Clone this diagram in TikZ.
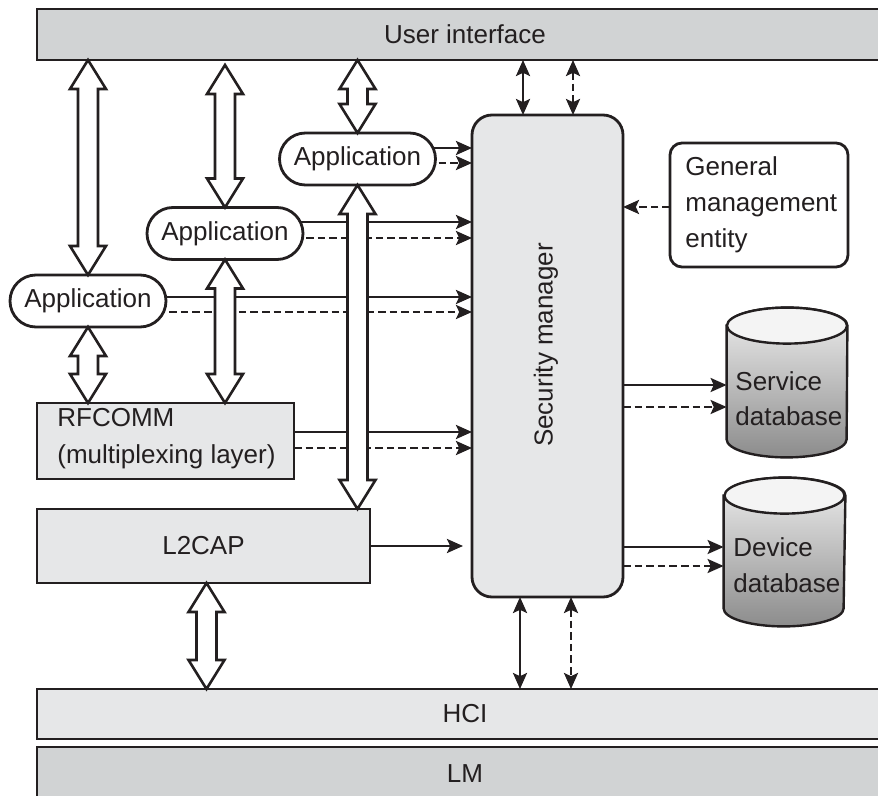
\documentclass[tikz,border=0pt]{standalone}
\usepackage{fontspec}
\setmainfont{Liberation Sans}
\usetikzlibrary{arrows.meta,calc,shapes.misc,backgrounds}
\definecolor{ink}{HTML}{231F20}
\definecolor{barfill}{HTML}{D1D3D4}
\definecolor{boxfill}{HTML}{E6E7E8}
\definecolor{dbcap}{HTML}{F4F4F4}
\definecolor{dbtop}{HTML}{EEEEEE}
\definecolor{dbbot}{HTML}{8C8C8C}
\tikzset{
  layer/.style={draw=ink, line width=1.4pt, rectangle, inner sep=0pt, outer sep=0pt},
  appbox/.style={draw=ink, line width=1.4pt, fill=white, rounded rectangle,
    minimum width=78pt, minimum height=26pt, inner sep=0pt, outer sep=0pt},
  lefttext/.style={anchor=west, align=left, inner sep=0pt},
  solidarr/.style={draw=ink, line width=1.3pt, ->},
  bothway/.style={draw=ink, line width=1.3pt, <->},
  brk/.style={dash pattern=on 3.8pt off 2pt},
  dbline/.style={draw=ink, line width=1.2pt},
  % wide hollow two-headed arrow, drawn from a top point to a bottom point
  hollow/.style={draw=ink, fill=white, line width=1.3pt, line join=miter,
    to path={-- ($(\tikztostart)+(18,29)$) -- ($(\tikztostart)+(10,29)$)
      -- ($(\tikztotarget)+(10,-29)$) -- ($(\tikztotarget)+(18,-29)$)
      -- (\tikztotarget)
      -- ($(\tikztotarget)+(-18,-29)$) -- ($(\tikztotarget)+(-10,-29)$)
      -- ($(\tikztostart)+(-10,29)$) -- ($(\tikztostart)+(-18,29)$) -- cycle}}
}
\begin{document}
\begin{tikzpicture}[x=0.5pt, y=-0.5pt, font=\fontsize{13}{15.6}\selectfont,
    text=ink, >={Stealth[length=8pt,width=7pt,inset=1.6pt]}]
\useasboundingbox (0,0) rectangle (878,796);

% horizontal layers
\node[layer, fill=barfill, minimum width=428pt, minimum height=25.5pt] (ui) at (465,34.5) {User interface};
\node[layer, fill=boxfill, minimum width=428pt, minimum height=25pt] (hci) at (465,714) {HCI};
\node[layer, fill=barfill, minimum width=428pt, minimum height=27pt] (lm) at (465,774) {LM};

% security manager
\node[layer, fill=boxfill, rounded corners=10pt, minimum width=75.5pt, minimum height=241pt] (sm) at (547.5,356) {};
\node[rotate=90] (smlabel) at (546,345) {Security manager};

% general management entity
\node[layer, fill=white, rounded corners=6pt, minimum width=89pt, minimum height=62pt] (gme) at (759,205) {};
\node[lefttext, font=\fontsize{13}{18}\selectfont] (gmetext) at (685,205) {General\\management\\entity};

% applications
\node[appbox] (app3) at (357.5,159) {Application};
\node[appbox] (app2) at (225,233.5) {Application};
\node[appbox] (app1) at (88,301) {Application};

% protocol layers
\node[layer, fill=boxfill, minimum width=128.5pt, minimum height=38pt] (rfcomm) at (165.5,441) {};
\node[lefttext, font=\fontsize{13}{18.5}\selectfont] (rfcommtext) at (57,438.5) {RFCOMM\\(multiplexing layer)};
\node[layer, fill=boxfill, minimum width=166.5pt, minimum height=37pt] (l2cap) at (203.5,546) {L2CAP};

% databases
\node[minimum width=60pt, minimum height=74.5pt, inner sep=0pt] (sdb) at (787,382.5) {};
\node[minimum width=60.5pt, minimum height=74pt, inner sep=0pt] (ddb) at (784.5,552) {};
\foreach \db in {sdb,ddb} {
  \draw[dbline, top color=dbtop, bottom color=dbbot]
    ($(\db.north west)+(0,18)$) -- ($(\db.south west)+(0,-18)$)
    arc[start angle=180, end angle=0, x radius=60, y radius=18]
    -- ($(\db.north east)+(0,18)$)
    arc[start angle=0, end angle=-180, x radius=60, y radius=18] -- cycle;
  \draw[dbline, fill=dbcap] ($(\db.north)+(0,18)$) ellipse[x radius=60, y radius=18];
}
\node[lefttext, font=\fontsize{13}{17.5}\selectfont] (sdbtext) at (735,398.5) {Service\\database};
\node[lefttext, font=\fontsize{13}{18}\selectfont] (ddbtext) at (733,565) {Device\\database};

% rows and columns of the thin connectors
\coordinate (r3s) at (0,148);  \coordinate (r3d) at (0,163);
\coordinate (r2s) at (0,222);  \coordinate (r2d) at (0,238);
\coordinate (r1s) at (0,297);  \coordinate (r1d) at (0,312);
\coordinate (rfs) at (0,432);  \coordinate (rfd) at (0,448);
\coordinate (l2s) at (0,546);
\coordinate (sds) at (0,385);  \coordinate (sdd) at (0,407);
\coordinate (dds) at (0,547);  \coordinate (ddd) at (0,566);
\coordinate (gmr) at (0,207);
\coordinate (cus) at (523,0);  \coordinate (cud) at (573,0);
\coordinate (cls) at (520,0);  \coordinate (cld) at (571,0);

\begin{scope}[on background layer]
  \draw[solidarr] (app3 |- r3s) -- (sm.west |- r3s);
  \draw[solidarr, brk] (app3 |- r3d) -- (sm.west |- r3d);
  \draw[solidarr] (app2 |- r2s) -- (sm.west |- r2s);
  \draw[solidarr, brk] (app2 |- r2d) -- (sm.west |- r2d);
  \draw[solidarr] (app1 |- r1s) -- (sm.west |- r1s);
  \draw[solidarr, brk] (app1 |- r1d) -- (sm.west |- r1d);
  \draw[solidarr] (rfcomm.east |- rfs) -- (sm.west |- rfs);
  \draw[solidarr, brk] (rfcomm.east |- rfd) -- (sm.west |- rfd);
  \draw[solidarr, shorten >=4.5pt] (l2cap.east |- l2s) -- (sm.west |- l2s);
  \draw[solidarr] (sm.east |- sds) -- (sdb.west |- sds);
  \draw[solidarr, brk] (sm.east |- sdd) -- (sdb.west |- sdd);
  \draw[solidarr] (sm.east |- dds) -- (ddb.west |- dds);
  \draw[solidarr, brk] (sm.east |- ddd) -- (ddb.west |- ddd);
  \draw[solidarr, brk] (gme.west |- gmr) -- (sm.east |- gmr);
  \draw[bothway] (ui.south -| cus) -- (sm.north -| cus);
  \draw[bothway, brk] (ui.south -| cud) -- (sm.north -| cud);
  \draw[bothway] (sm.south -| cls) -- (hci.north -| cls);
  \draw[bothway, brk] (sm.south -| cld) -- (hci.north -| cld);
\end{scope}

% wide data-path arrows
\coordinate (t1) at (app1.north |- ui.south);
\path (app2.north |- ui.south) ++(0,5) coordinate (t2);
\coordinate (t3) at (app3.north |- ui.south);
\coordinate (b1) at (app1.south |- rfcomm.north);
\coordinate (b2) at (app2.south |- rfcomm.north);
\coordinate (b3) at (app3.south |- l2cap.north);
\path (l2cap.south) ++(3,0) coordinate (l2top);
\coordinate (l2bot) at (l2top |- hci.north);
\draw[hollow] (t1) to (app1.north);
\draw[hollow] (t2) to (app2.north);
\draw[hollow] (t3) to (app3.north);
\draw[hollow] (app1.south) to (b1);
\draw[hollow] (app2.south) to (b2);
\draw[hollow] (app3.south) to (b3);
\draw[hollow] (l2top) to (l2bot);
\end{tikzpicture}
\end{document}
